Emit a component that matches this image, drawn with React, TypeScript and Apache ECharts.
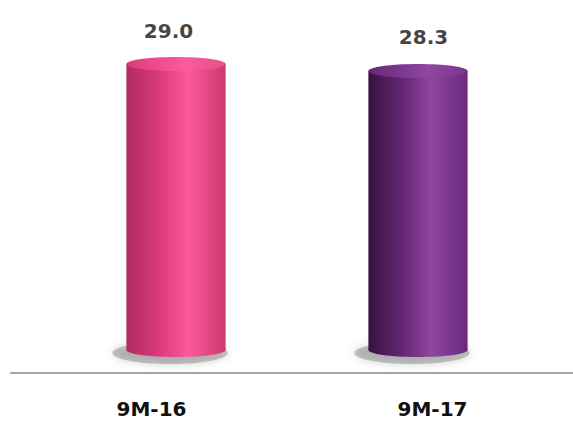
import React, { useEffect, useRef } from "react";
import * as echarts from "echarts";

const categories = ["9M-16", "9M-17"];
const values = [29.0, 28.3];

const PALETTE = [
  { dark: "#b02a5f", mid: "#dc3c7c", light: "#fb5a9b", edge: "#cf386f", top: "#e8508c" },
  { dark: "#38123d", mid: "#662676", light: "#8f47a0", edge: "#6b297c", top: "#7a3590" },
];

const FONT = "DejaVu Sans";

function grad(c: any) {
  return new echarts.graphic.LinearGradient(0, 0, 1, 0, [
    { offset: 0, color: c.dark },
    { offset: 0.35, color: c.mid },
    { offset: 0.63, color: c.light },
    { offset: 1, color: c.edge },
  ]);
}

export default function App() {
  const ref = useRef<HTMLDivElement>(null);
  useEffect(() => {
    if (!ref.current) return;
    const chart = echarts.init(ref.current, null, { renderer: "svg" });
    const maxV = Math.max(...values);
    chart.setOption({
      animation: false,
      grid: [
        { left: 11, right: 0, top: 64, bottom: 50 },
        { left: 55, right: 34, top: 64, bottom: 73 },
        { left: 41, right: 22, top: 64, bottom: 73 },
      ],
      xAxis: [
        {
          gridIndex: 0,
          type: "category",
          data: categories,
          axisLine: { show: true, lineStyle: { color: "#a6a6a6", width: 2 } },
          axisTick: { show: false },
          axisLabel: {
            margin: 26,
            fontFamily: FONT,
            fontWeight: "bold",
            fontSize: 20,
            color: "#111111",
          },
        },
        { gridIndex: 1, type: "category", data: categories, show: false },
        { gridIndex: 2, type: "category", data: categories, show: false },
      ],
      yAxis: [
        { gridIndex: 0, type: "value", show: false, min: 0, max: maxV },
        { gridIndex: 1, type: "value", show: false, min: 0, max: maxV },
        { gridIndex: 2, type: "value", show: false, min: 0, max: maxV },
      ],
      series: [
        {
          type: "custom",
          xAxisIndex: 1,
          yAxisIndex: 1,
          data: values.map((v, i) => [i, v]),
          renderItem: (params: any, api: any) => {
            const idx = params.dataIndex;
            const c = PALETTE[idx % PALETTE.length];
            const top = api.coord([api.value(0), api.value(1)]);
            const base = api.coord([api.value(0), 0]);
            const band = api.size([1, 0])[0];
            const w = band * 0.41;
            const rx = w / 2;
            const ry = 7;
            const cx = top[0];
            return {
              type: "group",
              children: [
                {
                  type: "ellipse",
                  shape: { cx: cx - 6, cy: base[1] + 3, rx: rx + 8, ry: ry + 4 },
                  style: {
                    fill: "rgba(130,130,130,0.45)",
                    shadowBlur: 8,
                    shadowColor: "rgba(130,130,130,0.8)",
                  },
                },
                {
                  type: "rect",
                  shape: { x: cx - rx, y: top[1], width: w, height: base[1] - top[1] },
                  style: { fill: grad(c) },
                },
                {
                  type: "ellipse",
                  shape: { cx, cy: base[1], rx, ry },
                  style: { fill: grad(c) },
                },
                {
                  type: "ellipse",
                  shape: { cx, cy: top[1], rx, ry },
                  style: {
                    fill: new echarts.graphic.LinearGradient(0, 0, 1, 0, [
                      { offset: 0, color: c.mid },
                      { offset: 0.6, color: c.light },
                      { offset: 1, color: c.top },
                    ]),
                  },
                },
              ],
            };
          },
        },
        {
          type: "scatter",
          xAxisIndex: 2,
          yAxisIndex: 2,
          symbolSize: 1,
          itemStyle: { color: "rgba(0,0,0,0)" },
          data: values.map((v, i) => [i, v]),
          label: {
            show: true,
            position: "top",
            distance: 23,
            formatter: (p: any) => p.value[1].toFixed(1),
            fontFamily: FONT,
            fontWeight: "bold",
            fontSize: 20,
            color: "#111111",
          },
        },
      ],
    });
    return () => chart.dispose();
  }, []);
  return <div ref={ref} style={{ width: 573, height: 423, position: "absolute", left: 0, top: 0 }} />;
}
